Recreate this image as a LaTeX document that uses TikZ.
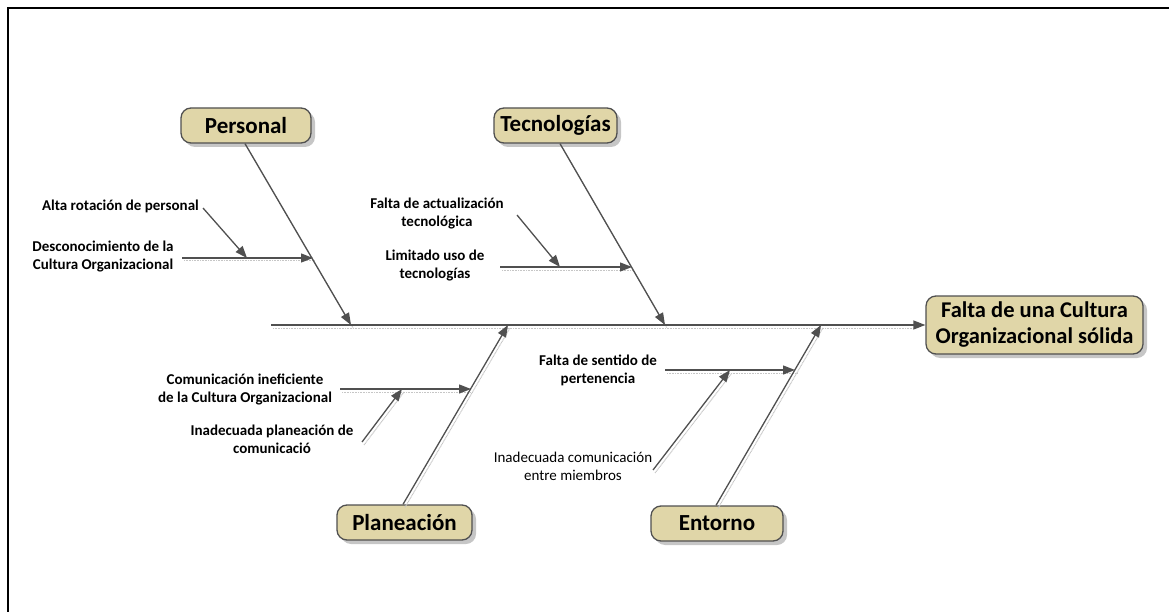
\documentclass[tikz,border=0pt]{standalone}
\usepackage{fontspec}
\setmainfont{Carlito}
\usetikzlibrary{arrows.meta,shadows}
\definecolor{boxfill}{HTML}{E0D6A8}
\definecolor{linec}{HTML}{505050}
\begin{document}
\begin{tikzpicture}[x=1pt,y=-1pt,
  catbox/.style={draw=linec, line width=1.3pt, fill=boxfill, rounded corners=10pt,
    font=\bfseries\fontsize{23}{27}\selectfont, minimum height=35pt, inner sep=2pt,
    drop shadow={shadow xshift=4pt, shadow yshift=-4pt, fill=gray!45, opacity=1}},
  lbl/.style={font=\bfseries\fontsize{15}{18}\selectfont, align=center, inner sep=0pt},
  lblr/.style={font=\fontsize{15}{18}\selectfont, align=center, inner sep=0pt},
  bone/.style={draw=linec, line width=1.3pt, -{Triangle[length=12pt,width=9pt]}},
  shline/.style={draw=gray!45, line width=1pt, dash pattern=on 1pt off 0.6pt},
]
\useasboundingbox (0,0) rectangle (1169,612);
% frame
\draw[line width=2.5pt, line cap=rect] (8,612) -- (8,8) -- (1169,8);

% category boxes
\node[catbox, minimum width=130pt] (per) at (246,125.5) {Personal};
\node[catbox, minimum width=123pt] (tec) at (555.5,125.5) {Tecnologías};
\node[catbox, minimum width=135pt] (pla) at (404.5,522.5) {Planeación};
\node[catbox, minimum width=132pt] (ent) at (717,523.5) {Entorno};
\node[catbox, minimum width=217pt, minimum height=58pt,
      font=\bfseries\fontsize{22.5}{26}\selectfont, align=center] (main) at (1034.5,325)
      {Falta de una Cultura\\Organizacional sólida};

% labels
\node[lbl, anchor=east] (alta) at (199,206) {Alta rotación de personal};
\node[lbl] (desc) at (103,257) {Desconocimiento de la\\Cultura Organizacional};
\node[lbl] (fal) at (437,214) {Falta de actualización\\tecnológica};
\node[lbl] (lim) at (435,266) {Limitado uso de\\tecnologías};
\node[lbl] (com) at (245,389) {Comunicación ineficiente\\de la Cultura Organizacional};
\node[lbl] (inp) at (272,439) {Inadecuada planeación de\\comunicació};
\node[lbl] (fsp) at (598,370) {Falta de sentido de\\pertenencia};
\node[lblr] (inc) at (573,466) {Inadecuada comunicación\\entre miembros};

% coordinates
\coordinate (s0) at (271,325);
\coordinate (sp) at (351,325);
\coordinate (st) at (665,325);
\coordinate (sl) at (508,325);
\coordinate (se) at (821,325);
\coordinate (d0) at (182,258);
\coordinate (d1) at (313,258);
\coordinate (a0) at (203,208);
\coordinate (a1) at (247,258);
\coordinate (l0) at (500,267);
\coordinate (l1) at (632,267);
\coordinate (f0) at (517,215);
\coordinate (f1) at (560,267);
\coordinate (c0) at (340,389);
\coordinate (c1) at (471,389);
\coordinate (i0) at (362,442);
\coordinate (i1) at (402,389);
\coordinate (p0) at (665,370);
\coordinate (p1) at (795,370);
\coordinate (n0) at (653,470);
\coordinate (n1) at (730,370);

% shadows of lines
\begin{scope}[transform canvas={shift={(2pt,-3pt)}}]
\draw[shline] (s0) -- ([xshift=-12pt]main.west);
\draw[shline] ([xshift=-1pt]per.south) -- (sp);
\draw[shline] ([xshift=4.5pt]tec.south) -- (st);
\draw[shline] ([xshift=-1.5pt]pla.north) -- (sl);
\draw[shline] ([xshift=-1pt]ent.north) -- (se);
\draw[shline] (d0) -- (d1);
\draw[shline] (l0) -- (l1);
\draw[shline] (c0) -- (c1);
\draw[shline] (p0) -- (p1);
\draw[shline] (i0) -- (i1);
\draw[shline] (n0) -- (n1);
\end{scope}

% spine and bones
\draw[bone] (s0) -- (main.west);
\draw[bone] ([xshift=-1pt]per.south) -- (sp);
\draw[bone] ([xshift=4.5pt]tec.south) -- (st);
\draw[bone] ([xshift=-1.5pt]pla.north) -- (sl);
\draw[bone] ([xshift=-1pt]ent.north) -- (se);

% sub-bones
\draw[bone] (d0) -- (d1);
\draw[bone] (a0) -- (a1);
\draw[bone] (l0) -- (l1);
\draw[bone] (f0) -- (f1);
\draw[bone] (c0) -- (c1);
\draw[bone] (i0) -- (i1);
\draw[bone] (p0) -- (p1);
\draw[bone] (n0) -- (n1);
\end{tikzpicture}
\end{document}
